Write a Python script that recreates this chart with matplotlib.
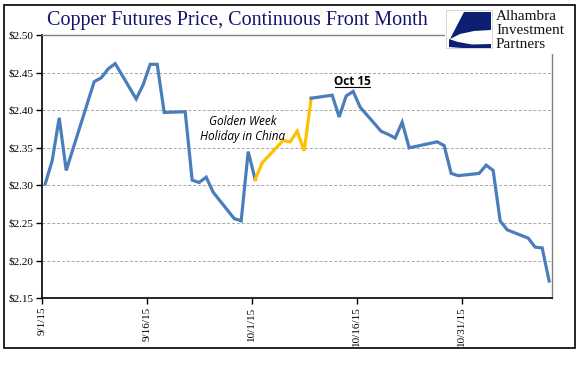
import matplotlib
matplotlib.use("Agg")
import matplotlib.pyplot as plt
import matplotlib.dates as mdates
import matplotlib.transforms as mtransforms
from matplotlib.patches import Rectangle, Polygon
from matplotlib.lines import Line2D
import pandas as pd

# daily settle, continuous front month ($/lb)
dates = [
    "2015-09-01", "2015-09-02", "2015-09-03", "2015-09-04", "2015-09-08",
    "2015-09-09", "2015-09-10", "2015-09-11", "2015-09-14", "2015-09-15",
    "2015-09-16", "2015-09-17", "2015-09-18", "2015-09-21", "2015-09-22",
    "2015-09-23", "2015-09-24", "2015-09-25", "2015-09-28", "2015-09-29",
    "2015-09-30", "2015-10-01", "2015-10-02", "2015-10-05", "2015-10-06",
    "2015-10-07", "2015-10-08", "2015-10-09", "2015-10-12", "2015-10-13",
    "2015-10-14", "2015-10-15", "2015-10-16", "2015-10-19", "2015-10-20",
    "2015-10-21", "2015-10-22", "2015-10-23", "2015-10-26", "2015-10-27",
    "2015-10-28", "2015-10-29", "2015-10-30", "2015-11-02", "2015-11-03",
    "2015-11-04", "2015-11-05", "2015-11-06", "2015-11-09", "2015-11-10",
    "2015-11-11", "2015-11-12",
]
prices = [
    2.302, 2.333, 2.390, 2.320, 2.438,
    2.443, 2.455, 2.462, 2.415, 2.434,
    2.461, 2.461, 2.397, 2.398, 2.307,
    2.304, 2.311, 2.291, 2.256, 2.253,
    2.345, 2.308, 2.330, 2.360, 2.358,
    2.372, 2.346, 2.416, 2.420, 2.391,
    2.419, 2.425, 2.404, 2.372, 2.368,
    2.363, 2.384, 2.350, 2.356, 2.358,
    2.353, 2.316, 2.313, 2.316, 2.327,
    2.320, 2.253, 2.241, 2.230, 2.218,
    2.217, 2.173,
]
holiday_start = "2015-10-01"
holiday_end = "2015-10-09"
tick_dates = ["2015-09-01", "2015-09-16", "2015-10-01", "2015-10-16", "2015-10-31"]
tick_labels = ["9/1/15", "9/16/15", "10/1/15", "10/16/15", "10/31/15"]
y_ticks = [2.15, 2.20, 2.25, 2.30, 2.35, 2.40, 2.45, 2.50]

df = pd.DataFrame({"date": pd.to_datetime(dates), "price": prices})
x = mdates.date2num(df["date"])
hs = mdates.date2num(pd.Timestamp(holiday_start))
he = mdates.date2num(pd.Timestamp(holiday_end))

blue = "#4a7ebb"
gold = "#ffc000"
serif = "Liberation Serif"

fig = plt.figure(figsize=(5.77, 3.68), dpi=100)
ax = fig.add_axes([41.7 / 577, 1 - 298.3 / 368, (552.3 - 41.7) / 577, (298.3 - 35) / 368])

before = x <= hs
during = (x >= hs) & (x <= he)
after = x >= he
ax.plot(x[before], df["price"][before], color=blue, lw=2.3, solid_joinstyle="miter", zorder=3)
ax.plot(x[during], df["price"][during], color=gold, lw=2.3, solid_joinstyle="miter", zorder=3)
ax.plot(x[after], df["price"][after], color=blue, lw=2.3, solid_joinstyle="miter", zorder=3)

x0 = x[0]
ax.set_xlim(x0 - 0.5, x0 + 72.45)
ax.set_ylim(2.15, 2.50)
ax.set_yticks(y_ticks)
ax.set_yticklabels(["${:.2f}".format(v) for v in y_ticks], fontsize=8, family=serif)
ax.set_xticks(mdates.date2num(pd.to_datetime(tick_dates)) - 0.5)
ax.set_xticklabels(tick_labels, rotation=90, fontsize=8, family=serif, va="top")
ax.tick_params(axis="both", direction="out", length=4, width=1, color="black", pad=2)
ax.grid(axis="y", color="#a6a6a6", linestyle=(0, (3, 2)), linewidth=0.7)
for s in ["left", "bottom"]:
    ax.spines[s].set_color("black")
    ax.spines[s].set_linewidth(1.2)
for s in ["top", "right"]:
    ax.spines[s].set_color("#808080")
    ax.spines[s].set_linewidth(1.0)

ax.text(0.394, 0.672, "Golden Week", transform=ax.transAxes, ha="center", va="center",
        fontsize=8.5, style="italic", family="Open Sans")
ax.text(0.394, 0.615, "Holiday in China", transform=ax.transAxes, ha="center", va="center",
        fontsize=8.5, style="italic", family="Open Sans")
oct_lbl = ax.text(0.609, 0.825, "Oct 15", transform=ax.transAxes, ha="center", va="center",
                  fontsize=8.5, fontweight="bold", family="Open Sans")

# logo block over the top-right corner
fig.add_artist(Rectangle((445 / 577, 1 - 54 / 368), 130 / 577, 48 / 368,
                         transform=fig.transFigure, facecolor="white", edgecolor="none", zorder=5))
fig.add_artist(Rectangle((446 / 577, 1 - 48 / 368), 46 / 577, 38 / 368,
                         transform=fig.transFigure, facecolor="white", edgecolor="#d0d0d0",
                         lw=0.6, zorder=6))
navy = "#0d1f73"
def fpt(px, py):
    return (px / 577, 1 - py / 368)
fig.add_artist(Polygon([fpt(464, 12), fpt(491, 12), fpt(491, 30), fpt(474, 31), fpt(460, 34),
                        fpt(450, 39)],
                       closed=True, transform=fig.transFigure, facecolor=navy, edgecolor="none", zorder=7))
fig.add_artist(Polygon([fpt(449, 39), fpt(458, 42), fpt(472, 44.5), fpt(491, 44), fpt(491, 48),
                        fpt(462, 48), fpt(449, 47)],
                       closed=True, transform=fig.transFigure, facecolor=navy, edgecolor="none", zorder=7))
for i, word in enumerate(["Alhambra", "Investment", "Partners"]):
    fig.text(496 / 577, 1 - (17 + 14 * i) / 368, word, ha="left", va="center",
             fontsize=11, family=serif, color="#111111", zorder=8)

fig.text(47 / 577, 1 - 21 / 368, "Copper Futures Price, Continuous Front Month",
         ha="left", va="center", fontsize=14.5, family=serif, color="#14146e", zorder=8)

# outer frame
fig.add_artist(Rectangle((4 / 577, 1 - 348 / 368), 571 / 577, 343 / 368,
                         transform=fig.transFigure, facecolor="none", edgecolor="black",
                         lw=1.2, zorder=9))

# underline for the Oct 15 label
fig.canvas.draw()
bb = oct_lbl.get_window_extent()
fig.add_artist(Line2D([bb.x0 + 1, bb.x1 - 1], [bb.y0 + 1, bb.y0 + 1], color="black", lw=0.8,
                      transform=mtransforms.IdentityTransform(), zorder=8))

fig.savefig("out.png", dpi=100)
